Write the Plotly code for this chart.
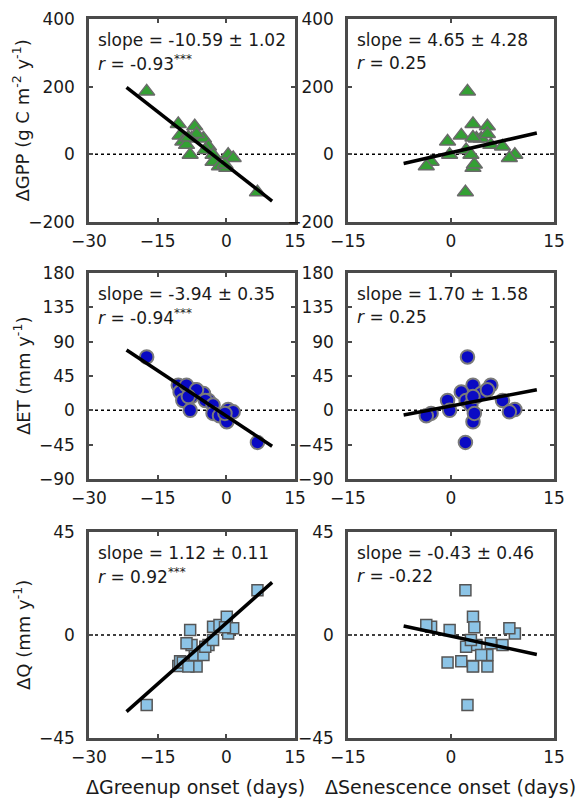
import plotly.graph_objects as go

# ---------------- data ----------------
# one entry per year: anomalies of greenup / senescence onset (days) and responses
greenup    = [-17.4, 6.8, -10.5, -6.9, -10.1, -7.6, -5.0, -9.5, -8.7, -3.9, -4.6, -7.9, -2.9, 0.4, 1.5, -2.9, -1.5, 0.1, -0.3, -6.5, -8.3]
senescence = [2.4, 2.1, 3.2, 5.3, 1.5, 3.7, 4.4, -0.5, 5.8, 7.5, 2.2, -0.2, 2.9, 9.3, 8.5, -2.9, -3.6, 3.2, 3.4, 5.3, 3.2]
d_gpp      = [186, -112, 90, 83, 56, 47, 47, 38, 28, 23, 13, -1, -1, -1, -11, -22, -35, -40, -30, 60, 50]
d_et       = [70, -42, 33, 27, 24, 18, 22, 13, 33, 13, 13, 0, 7, 1, -2, -4, -7, -15, -4, 27, 18]
d_q        = [-30.6, 19.6, -13.5, -8.7, -11.5, -4.4, -8.7, -12.0, -3.6, -4.4, -5.1, 2.2, -2.2, 0.7, 2.9, 3.6, 4.4, 8.0, 3.4, -13.8, -13.8]

# regression lines as drawn (x extent, y at the two ends)
fit_x_green = [-21.8, 10.0]
fit_x_sen   = [-6.9, 12.5]
fit_gpp_green = [198, -138]
fit_gpp_sen   = [-27, 63]
fit_et_green  = [79, -47]
fit_et_sen    = [-6, 27]
fit_q_green   = [-33.5, 23]
fit_q_sen     = [3.9, -8.5]

slope_labels = ["slope = -10.59 ± 1.02", "slope = 4.65 ± 4.28",
                "slope = -3.94 ± 0.35", "slope = 1.70 ± 1.58",
                "slope = 1.12 ± 0.11", "slope = -0.43 ± 0.46"]
r_labels = ["-0.93<sup>***</sup>", "0.25", "-0.94<sup>***</sup>", "0.25",
            "0.92<sup>***</sup>", "-0.22"]

x_ticks_green = [-30, -15, 0, 15]
x_ticks_sen = [-15, 0, 15]
y_ticks_gpp = [-200, 0, 200, 400]
y_ticks_et = [-90, -45, 0, 45, 90, 135, 180]
y_ticks_q = [-45, 0, 45]

y_titles = ["ΔGPP (g C m<sup>-2</sup> y<sup>-1</sup>)", "ΔET (mm y<sup>-1</sup>)", "ΔQ (mm y<sup>-1</sup>)"]
x_titles = ["ΔGreenup onset (days)", "ΔSenescence onset (days)"]

# ---------------- layout geometry ----------------
# the page body adds an 8px margin, so positions below are window pixels
# converted to figure coordinates.
PAD = 8
W, H = 587 - 2 * PAD, 806 - 2 * PAD
col_px = [(89, 295), (348, 554)]
row_px = [(19, 222), (273, 479), (532, 738)]
x_title_px = [195, 450]


def fx_(px):
    return (px - PAD) / W


def fy_(py):
    return 1 - (py - PAD) / H


FONT = "DejaVu Sans"
TXT = "#1a1a1a"
AX_COL = "#4a4a4a"

styles = [
    dict(symbol="triangle-up", size=14, color="#34a034", line=dict(color="#6a6a6a", width=1.5)),
    dict(symbol="circle", size=13.5, color="#0a0ac4", line=dict(color="#7a7a7a", width=2)),
    dict(symbol="square", size=11, color="#8cc4e6", line=dict(color="#555555", width=1.5)),
]

rows = [
    (d_gpp, fit_gpp_green, fit_gpp_sen, [-200, 400], y_ticks_gpp),
    (d_et, fit_et_green, fit_et_sen, [-90, 180], y_ticks_et),
    (d_q, fit_q_green, fit_q_sen, [-45, 45], y_ticks_q),
]

fig = go.Figure()
layout = dict(width=W, height=H, margin=dict(l=0, r=0, t=0, b=0, autoexpand=False),
              paper_bgcolor="white", plot_bgcolor="white", showlegend=False,
              font=dict(family=FONT, size=17, color=TXT))
annotations = []
shapes = []

idx = 0
for r, (yvals, fitg, fits, yrange, yticks) in enumerate(rows):
    for c in range(2):
        idx += 1
        xs = greenup if c == 0 else senescence
        fx = fit_x_green if c == 0 else fit_x_sen
        fy = fitg if c == 0 else fits
        xr = [-30, 15] if c == 0 else [-15, 15]
        xt = x_ticks_green if c == 0 else x_ticks_sen
        xa = "x" if idx == 1 else f"x{idx}"
        ya = "y" if idx == 1 else f"y{idx}"
        fig.add_trace(go.Scatter(x=xs, y=yvals, mode="markers", marker=styles[r],
                                 xaxis=xa, yaxis=ya, cliponaxis=False))
        fig.add_trace(go.Scatter(x=fx, y=fy, mode="lines",
                                 line=dict(color="black", width=3.5),
                                 xaxis=xa, yaxis=ya))
        x0, x1 = col_px[c]
        y0, y1 = row_px[r]
        ph = y1 - y0
        common = dict(showgrid=False, zeroline=False, showline=True, linecolor=AX_COL,
                      linewidth=2.5, mirror="ticks", ticks="inside", ticklen=4,
                      tickwidth=1.5, tickcolor=AX_COL, fixedrange=True, automargin=False,
                      ticklabeloverflow="allow",
                      tickfont=dict(family=FONT, size=17, color=TXT))
        layout["xaxis" if idx == 1 else f"xaxis{idx}"] = dict(
            common, domain=[fx_(x0), fx_(x1)], range=xr, tickvals=xt,
            anchor=ya, ticklabelstandoff=2)
        layout["yaxis" if idx == 1 else f"yaxis{idx}"] = dict(
            common, domain=[fy_(y1), fy_(y0)], range=yrange, tickvals=yticks,
            anchor=xa, ticklabelstandoff=8)
        shapes.append(dict(type="line", xref=f"{xa} domain", yref=ya, x0=0, x1=1,
                           y0=0, y1=0, layer="below",
                           line=dict(color="black", width=1.5, dash="dot")))
        annotations.append(dict(text=slope_labels[idx - 1], xref=f"{xa} domain",
                                yref=f"{ya} domain", x=0.035, y=1 - 21 / ph,
                                xanchor="left", yanchor="middle", showarrow=False,
                                font=dict(family=FONT, size=17, color=TXT)))
        annotations.append(dict(text="<i>r</i> = " + r_labels[idx - 1],
                                xref=f"{xa} domain", yref=f"{ya} domain",
                                x=0.035, y=1 - 44 / ph, xanchor="left",
                                yanchor="middle", showarrow=False,
                                font=dict(family=FONT, size=17, color=TXT)))

for r in range(3):
    y0, y1 = row_px[r]
    annotations.append(dict(text=y_titles[r], xref="paper", yref="paper",
                            x=fx_(22), y=fy_((y0 + y1) / 2), textangle=-90,
                            xanchor="center", yanchor="middle", showarrow=False,
                            font=dict(family=FONT, size=18, color=TXT)))
for c in range(2):
    annotations.append(dict(text=x_titles[c], xref="paper", yref="paper",
                            x=fx_(x_title_px[c]), y=fy_(787),
                            xanchor="center", yanchor="middle", showarrow=False,
                            font=dict(family=FONT, size=19, color=TXT)))

layout["annotations"] = annotations
layout["shapes"] = shapes
fig.update_layout(**layout)
fig.write_html("out.html")
